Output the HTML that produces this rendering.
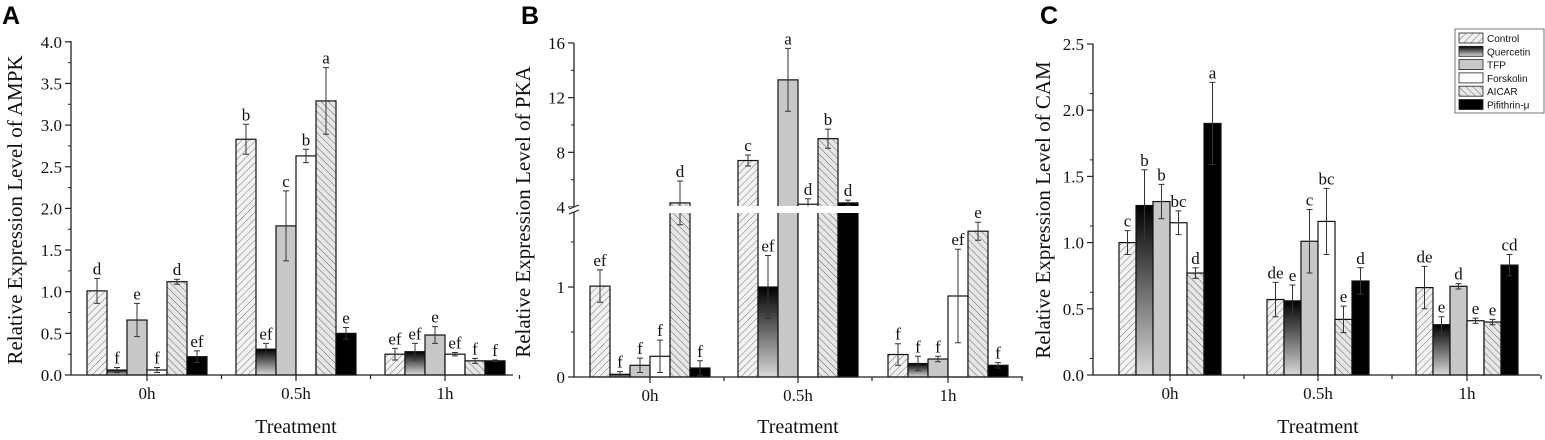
<!DOCTYPE html>
<html><head><meta charset="utf-8">
<style>
html,body{margin:0;padding:0;background:#fff;width:1545px;height:440px;overflow:hidden}
svg{display:block}
.serif{font-family:"Liberation Serif",serif}
</style></head>
<body>
<svg id="fig" width="1545" height="440" viewBox="0 0 1545 440" xmlns="http://www.w3.org/2000/svg">
<defs>
<pattern id="hatchF" patternUnits="userSpaceOnUse" width="5" height="5" patternTransform="rotate(45)">
<rect width="5" height="5" fill="#f2f2f2"/><line x1="0" y1="0" x2="0" y2="5" stroke="#777" stroke-width="1"/></pattern>
<pattern id="hatchB" patternUnits="userSpaceOnUse" width="5" height="5" patternTransform="rotate(-45)">
<rect width="5" height="5" fill="#e6e6e6"/><line x1="0" y1="0" x2="0" y2="5" stroke="#666" stroke-width="1"/></pattern>
<linearGradient id="gradQ" x1="0" y1="0" x2="0" y2="1"><stop offset="0" stop-color="#000"/><stop offset="1" stop-color="#d8d8d8"/></linearGradient>
</defs>
</svg>
<script>
const groups = ["0h","0.5h","1h"];
const seriesNames = ["Control","Quercetin","TFP","Forskolin","AICAR","Pifithrin-μ"];
const fills = ["url(#hatchF)","url(#gradQ)","#c8c8c8","#fff","url(#hatchB)","#000"];

const ampkVals = [[1.01,0.06,0.66,0.06,1.12,0.22],[2.83,0.31,1.79,2.63,3.29,0.50],[0.25,0.28,0.48,0.25,0.17,0.17]];
const ampkErr  = [[0.15,0.03,0.20,0.03,0.03,0.07],[0.18,0.07,0.42,0.08,0.40,0.07],[0.07,0.10,0.10,0.02,0.03,0.01]];
const ampkLet  = [["d","f","e","f","d","ef"],["b","ef","c","b","a","e"],["ef","ef","e","ef","f","f"]];
const ampkTicks = ["0.0","0.5","1.0","1.5","2.0","2.5","3.0","3.5","4.0"];

const pkaVals = [[1.01,0.03,0.13,0.23,4.3,0.10],[7.4,1.0,13.3,4.2,9.0,4.3],[0.25,0.15,0.20,0.90,1.62,0.13]];
const pkaErr  = [[0.18,0.03,0.08,0.18,1.6,0.08],[0.4,0.35,2.3,0.4,0.7,0.2],[0.12,0.08,0.03,0.52,0.10,0.03]];
const pkaLet  = [["ef","f","f","f","d","f"],["c","ef","a","d","b","d"],["f","f","f","ef","e","f"]];
const pkaTicksLow = ["0","1"];
const pkaTicksHigh = ["4","8","12","16"];

const camVals = [[1.00,1.28,1.31,1.15,0.77,1.90],[0.57,0.56,1.01,1.16,0.42,0.71],[0.66,0.38,0.67,0.41,0.40,0.83]];
const camErr  = [[0.09,0.27,0.13,0.09,0.04,0.31],[0.13,0.12,0.24,0.25,0.10,0.10],[0.16,0.06,0.02,0.02,0.02,0.08]];
const camLet  = [["c","b","b","bc","d","a"],["de","e","c","bc","e","d"],["de","e","d","e","e","cd"]];
const camTicks = ["0.0","0.5","1.0","1.5","2.0","2.5"];

const svg = document.getElementById('fig');
const NS = "http://www.w3.org/2000/svg";
function mk(tag, attrs, parent){ const e=document.createElementNS(NS,tag); for(const k in attrs) e.setAttribute(k,attrs[k]); (parent||svg).appendChild(e); return e; }
function txt(s, attrs, parent){ const e=mk('text',attrs,parent); e.textContent=s; return e; }

function panel(cfg){
  const g = mk('g',{});
  
  
  const {ax, x1, y0, yScale, centers, bw, vals, errs, lets} = cfg;
  vals.forEach((row,gi)=>{
    row.forEach((v,si)=>{
      const x = centers[gi] - bw*3 + si*bw;
      const yt = yScale(v);
      const r = mk('rect',{x:x, y:yt, width:bw, height:y0-yt, fill:fills[si], stroke:'#111','stroke-width':1.2}, g);
      
      
      const cx = x + bw/2, e = errs[gi][si];
      const ya = yScale(v+e), yb = yScale(Math.max(0,v-e));
      const eb = mk('path',{d:`M${cx},${ya}V${yb}M${cx-3},${ya}H${cx+3}M${cx-3},${yb}H${cx+3}`, stroke:'#333','stroke-width':1, fill:'none'}, g);
      
      
      const lt = txt(lets[gi][si], {x:cx, y:ya-4, 'text-anchor':'middle','font-size':17, class:'serif', fill:'#111'}, g);
      
      
    });
  });
  if (cfg.extra) cfg.extra(g);
  const axl = mk('path',{d:`M${ax},${cfg.yTop}V${y0}H${x1}`, stroke:'#222','stroke-width':1.3, fill:'none'}, g);
  
  
  const gap = centers[1]-centers[0];
  const xt = [];
  centers.forEach((c,i)=>{ xt.push(c); xt.push(c+gap/2); });
  xt.forEach((x,i)=> mk('line',{x1:x,x2:x,y1:y0,y2:y0+(i%2==0?6:4),stroke:'#222','stroke-width':1.2},g));
  centers.forEach((c,i)=>{
    const t = txt(groups[i],{x:c,y:y0+24,'text-anchor':'middle','font-size':17,class:'serif',fill:'#111'},g);
    
    
  });
  cfg.yticks(g);
  const xtit = txt('Treatment',{x:cfg.titleX, y:433,'text-anchor':'middle','font-size':20,class:'serif',fill:'#111'},g);
  
  
  const ytit = txt(cfg.ytitle,{x:0,y:0,'text-anchor':'middle','font-size':21,class:'serif',fill:'#111',transform:`translate(${cfg.ytx},${cfg.yty}) rotate(-90)`},g);
  
  
  const pl = txt(cfg.letter,{x:cfg.lx,y:24,'font-size':25,'font-weight':'bold','font-family':'Liberation Sans, sans-serif',fill:'#000'},g);
  
  
}

function linTicks(g, ax, yS, labels, step){
  labels.forEach((l,i)=>{
    const v = parseFloat(l), y = yS(v);
    mk('line',{x1:ax-6,x2:ax,y1:y,y2:y,stroke:'#222','stroke-width':1.2},g);
    if(i<labels.length-1){ const ym = yS(v+step/2); mk('line',{x1:ax-3,x2:ax,y1:ym,y2:ym,stroke:'#222','stroke-width':1},g); }
    const t = txt(l,{x:ax-9,y:y+6,'text-anchor':'end','font-size':17,class:'serif',fill:'#111'},g);
    
    
  });
}

const yA = v => 375 - v*83.3;
panel({name:'panel-a-ampk', letter:'A', lx:2, ax:71, x1:513, y0:375, yTop:41, yScale:yA, centers:[147,296,445], bw:20,
  vals:ampkVals, errs:ampkErr, lets:ampkLet, ytitle:'Relative Expression Level of AMPK', ytx:22, yty:210, titleX:296,
  yticks:g=>linTicks(g,71,yA,ampkTicks,0.5)});

const yB = v => v<=1.85 ? 377 - v*90 : 207 - (v-4)*13.67;
panel({name:'panel-b-pka', letter:'B', lx:521, ax:574, x1:1023, y0:377, yTop:43, yScale:yB, centers:[650,798,948], bw:20,
  vals:pkaVals, errs:pkaErr, lets:pkaLet, ytitle:'Relative Expression Level of PKA', ytx:530, yty:212, titleX:798,
  extra:g=>{ const b=mk('rect',{x:574,y:206,width:300,height:7,fill:'#fff'},g);   },
  yticks:g=>{
    pkaTicksLow.forEach(l=>{const y=yB(+l); mk('line',{x1:568,x2:574,y1:y,y2:y,stroke:'#222','stroke-width':1.2},g);
      mk('line',{x1:571,x2:574,y1:yB(+l+0.5),y2:yB(+l+0.5),stroke:'#222'},g);
      const t=txt(l,{x:565,y:y+6,'text-anchor':'end','font-size':17,class:'serif',fill:'#111'},g);  });
    pkaTicksHigh.forEach((l,i)=>{const y=yB(+l); mk('line',{x1:568,x2:574,y1:y,y2:y,stroke:'#222','stroke-width':1.2},g);
      if(i<pkaTicksHigh.length-1) mk('line',{x1:571,x2:574,y1:yB(+l+2),y2:yB(+l+2),stroke:'#222'},g);
      const t=txt(l,{x:565,y:y+6,'text-anchor':'end','font-size':17,class:'serif',fill:'#111'},g);  });
    mk('rect',{x:570,y:207,width:8,height:5,fill:'#fff'},g);
    mk('path',{d:'M569,209L579,205M569,214L579,210',stroke:'#222','stroke-width':1.2},g);
  }});

const yC = v => 375 - v*132.4;
panel({name:'panel-c-cam', letter:'C', lx:1040, ax:1093, x1:1540, y0:375, yTop:44, yScale:yC, centers:[1170,1318,1467], bw:17,
  vals:camVals, errs:camErr, lets:camLet, ytitle:'Relative Expression Level of CAM', ytx:1050, yty:210, titleX:1318,
  yticks:g=>linTicks(g,1093,yC,camTicks,0.25)});

const lg = mk('g',{});


mk('rect',{x:1455,y:29,width:89,height:84,fill:'#fff',stroke:'#777','stroke-width':1},lg);
seriesNames.forEach((n,i)=>{
  const y = 33 + i*13.3;
  mk('rect',{x:1459,y:y,width:24,height:10,fill:fills[i],stroke:'#222','stroke-width':0.8},lg);
  const t = txt(n,{x:1487,y:y+9,'font-size':10,'font-family':'Liberation Sans, sans-serif',fill:'#111'},lg);
  
  
});
</script>
</body></html>
